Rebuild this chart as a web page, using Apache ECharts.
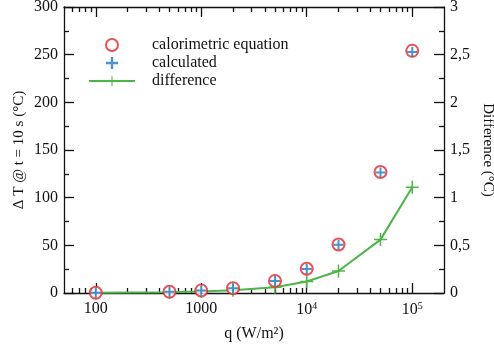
<!DOCTYPE html>
<html><head><meta charset="utf-8">
<script src="https://cdn.jsdelivr.net/npm/echarts@6/dist/echarts.min.js"></script>
<style>html,body{margin:0;padding:0;background:#fff}#c{width:494px;height:344px}</style>
</head><body><div id="c"></div>
<script>
const qValues = [100, 500, 1000, 2000, 5000, 10000, 20000, 50000, 100000];
const calorimetric = [0.25, 1.27, 2.54, 5.08, 12.7, 25.4, 50.8, 127, 254];
const calculated = [0.25, 1.27, 2.53, 5.06, 12.6, 25.3, 50.6, 126.4, 252.9];
const difference = [0.002, 0.008, 0.015, 0.03, 0.06, 0.12, 0.23, 0.56, 1.11];
const xMajorTicks = [100, 1000, 10000, 100000];
const xMinorTicks = [60, 70, 80, 90, 200, 300, 400, 500, 600, 700, 800, 900,
  2000, 3000, 4000, 5000, 6000, 7000, 8000, 9000,
  20000, 30000, 40000, 50000, 60000, 70000, 80000, 90000];
const xTickLabels = ['100', '1000', '10{s|4}', '10{s|5}'];
const seriesNames = ['calorimetric equation', 'calculated', 'difference'];
const yLeftName = 'Δ T @ t = 10 s (°C)';
const yRightName = 'Difference (°C)';
const xName = 'q (W/m²)';

const FONT = 'Liberation Serif';
const TXT = '#111';
const RED = '#e3262b', BLUE = '#1f77c0', GREEN = '#4cb548';
const PLUS = 'path://M4,0H6V4H10V6H6V10H4V6H0V4H4Z';
const PLUS_THIN = 'path://M5.75,0H7.25V5.75H13V7.25H7.25V13H5.75V7.25H0V5.75H5.75Z';
const lineStyle = {color: '#111', width: 1.3};
const txt = (size) => ({fontFamily: FONT, fontSize: size, color: TXT, fontWeight: 'normal'});

function pairs(ys) { return qValues.map((q, i) => [q, ys[i]]); }

function xAxisDef(pos, major, withLabels) {
  return {
    type: 'log', logBase: 10, min: 50, max: 200000, position: pos, gridIndex: 0,
    axisLine: {show: major, lineStyle},
    axisTick: {show: true, inside: true, length: major ? 10 : 5, lineStyle,
      customValues: major ? xMajorTicks : xMinorTicks},
    axisLabel: withLabels ? Object.assign({
      show: true, customValues: xMajorTicks, margin: 8,
      formatter: v => {
        const i = xMajorTicks.findIndex(t => Math.abs(Math.log10(t) - Math.log10(v)) < 1e-6);
        return i >= 0 ? xTickLabels[i] : '';
      },
      rich: {s: Object.assign(txt(10), {verticalAlign: 'top', padding: [0, 0, 8, 0]})}
    }, txt(16)) : {show: false},
    splitLine: {show: false},
    name: withLabels ? xName : '', nameLocation: 'middle', nameGap: 33, nameMoveOverlap: false,
    nameTextStyle: txt(16)
  };
}

const option = {
  animation: false,
  backgroundColor: '#fff',
  textStyle: txt(16),
  grid: {left: 64, top: 7, width: 380, height: 286, containLabel: false, outerBoundsMode: 'none'},
  legend: {
    orient: 'vertical', left: 88, top: 36, padding: 0, itemWidth: 46, itemHeight: 12, itemGap: 0,
    selectedMode: false, data: seriesNames,
    textStyle: Object.assign(txt(16), {lineHeight: 18, padding: [0, 0, 0, 12]})
  },
  xAxis: [
    xAxisDef('bottom', true, true),
    xAxisDef('bottom', false, false),
    xAxisDef('top', true, false),
    xAxisDef('top', false, false)
  ],
  yAxis: [
    {type: 'value', min: 0, max: 300, interval: 50, position: 'left',
      axisLine: {show: true, lineStyle},
      axisTick: {show: true, inside: true, length: 10, lineStyle},
      minorTick: {show: true, splitNumber: 2, length: 5, lineStyle},
      axisLabel: Object.assign({margin: 6}, txt(16)),
      splitLine: {show: false},
      name: yLeftName, nameLocation: 'middle', nameGap: 37, nameRotate: 90, nameMoveOverlap: false,
      nameTextStyle: txt(15)},
    {type: 'value', min: 0, max: 3, interval: 0.5, position: 'right',
      axisLine: {show: true, lineStyle},
      axisTick: {show: true, inside: true, length: 10, lineStyle},
      minorTick: {show: true, splitNumber: 2, length: 5, lineStyle},
      axisLabel: Object.assign({margin: 6, formatter: v => String(v).replace('.', ',')}, txt(16)),
      splitLine: {show: false},
      name: yRightName, nameLocation: 'middle', nameGap: 36, nameRotate: -90, nameMoveOverlap: false,
      nameTextStyle: txt(15)}
  ],
  series: [
    {name: seriesNames[2], type: 'line', xAxisIndex: 0, yAxisIndex: 1,
      data: pairs(difference), symbol: PLUS_THIN, symbolSize: 13,
      showSymbol: true, itemStyle: {color: GREEN},
      lineStyle: {color: GREEN, width: 2}, z: 2},
    {name: seriesNames[0], type: 'scatter', xAxisIndex: 0, yAxisIndex: 0,
      data: pairs(calorimetric), symbol: 'emptyCircle', symbolSize: 12,
      itemStyle: {color: RED, borderColor: RED, borderWidth: 2}, z: 3},
    {name: seriesNames[1], type: 'scatter', xAxisIndex: 0, yAxisIndex: 0,
      data: pairs(calculated), symbol: PLUS, symbolSize: 10,
      itemStyle: {color: BLUE}, z: 4}
  ]
};
const chart = echarts.init(document.getElementById('c'));
chart.setOption(option);
</script>
</body></html>
